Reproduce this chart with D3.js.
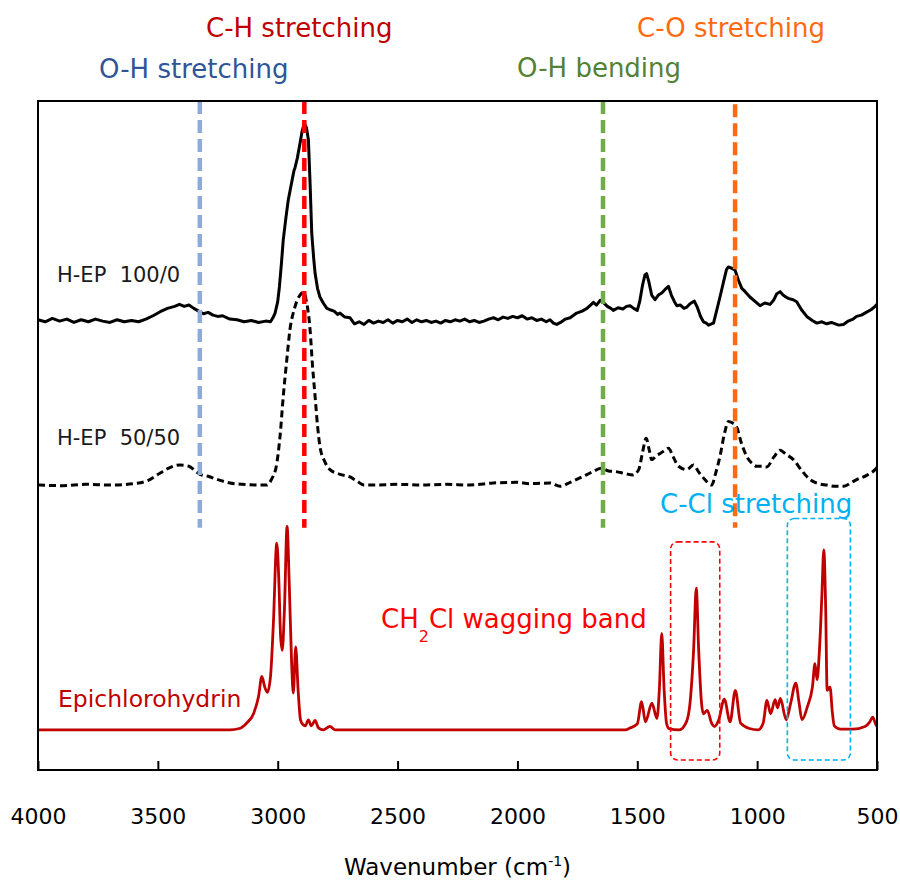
<!DOCTYPE html>
<html>
<head>
<meta charset="utf-8">
<script src="https://cdn.jsdelivr.net/npm/d3@7"></script>
<style>
  body { margin: 0; background: #fff; }
  text { font-family: "DejaVu Sans", Verdana, sans-serif; white-space: pre; }
</style>
</head>
<body>
<svg id="chart" width="900" height="884"></svg>
<script>
// FTIR spectra, wavenumber (cm-1) vs offset absorbance (arbitrary units, 0-100 over the plot)

var hep100 = [
  [4000,67.3],[3970,67.0],[3940,67.5],[3910,67.1],[3880,67.4],[3850,66.9],[3820,67.3],[3790,67.0],
  [3760,67.4],[3730,67.1],[3700,66.9],[3670,67.3],[3640,67.0],[3610,67.2],[3580,67.0],[3550,67.4],
  [3520,67.9],[3490,68.5],[3460,69.0],[3430,69.3],[3410,69.6],[3390,69.3],[3370,69.5],[3350,69.0],
  [3330,68.6],[3310,68.2],[3290,68.4],[3270,68.0],[3250,67.8],[3230,67.9],[3200,67.4],[3170,67.3],
  [3140,67.0],[3110,67.2],[3080,66.9],[3050,67.1],[3030,67.0],[3020,67.6],[3011,68.3],[3000,70.0],
  [2993,72.2],[2985,75.5],[2977,79.2],[2966,82.5],[2956,85.2],[2942,87.8],[2932,89.6],[2928,90.0],
  [2918,91.5],[2907,93.7],[2898,95.5],[2889,96.7],[2880,96.0],[2872,94.2],[2865,87.7],[2858,80.2],
  [2850,76.5],[2844,74.2],[2834,72.0],[2824,70.7],[2810,69.8],[2795,69.0],[2782,68.8],[2765,68.6],
  [2750,68.1],[2740,68.3],[2720,67.7],[2698,67.6],[2680,66.7],[2660,67.0],[2640,66.6],[2620,67.2],
  [2600,66.8],[2580,67.1],[2560,66.9],[2540,67.3],[2520,66.8],[2500,67.2],[2480,67.0],[2460,67.4],
  [2440,66.9],[2420,67.3],[2400,67.0],[2380,67.2],[2360,66.9],[2340,67.1],[2320,66.8],[2300,67.2],
  [2280,67.0],[2260,67.3],[2240,67.1],[2220,67.4],[2200,67.0],[2180,67.2],[2160,66.9],[2140,67.1],
  [2120,67.4],[2100,67.6],[2080,67.3],[2060,67.7],[2040,67.5],[2020,67.8],[2000,67.6],[1980,67.9],
  [1960,67.4],[1940,67.6],[1920,67.2],[1900,67.4],[1880,67.0],[1864,67.3],[1850,66.8],[1836,66.6],
  [1820,66.9],[1800,67.4],[1780,67.6],[1753,68.3],[1730,68.6],[1710,69.0],[1695,69.5],[1683,69.9],
  [1670,69.5],[1655,70.2],[1642,69.9],[1625,69.3],[1610,69.0],[1600,68.7],[1580,69.1],[1560,68.9],
  [1545,69.3],[1530,69.4],[1515,69.0],[1500,68.7],[1490,70.0],[1478,72.5],[1468,74.0],[1461,74.2],
  [1452,73.0],[1440,71.0],[1426,70.3],[1412,71.0],[1398,71.3],[1385,71.8],[1370,72.3],[1358,71.0],
  [1345,70.0],[1335,69.4],[1320,69.5],[1305,69.0],[1293,69.2],[1280,69.7],[1262,70.1],[1250,69.2],
  [1236,67.8],[1224,67.0],[1212,66.8],[1203,66.5],[1190,66.7],[1182,66.8],[1170,68.5],[1155,70.7],
  [1140,73.0],[1128,74.8],[1120,75.2],[1106,75.0],[1092,74.7],[1078,73.2],[1064,72.0],[1050,71.5],
  [1030,70.7],[1010,70.1],[988,69.4],[968,69.8],[946,69.6],[930,70.3],[918,71.2],[904,71.5],
  [892,71.0],[880,70.7],[870,70.5],[850,70.3],[835,70.0],[815,68.8],[793,67.8],[770,67.2],
  [751,66.8],[730,67.0],[710,66.7],[690,66.9],[682,66.8],[660,66.5],[640,66.6],[620,67.1],
  [600,67.4],[585,67.8],[565,68.0],[545,68.4],[525,68.8],[508,69.3],[500,69.6]
];

var hep5050 = [
  [4000,42.6],[3900,42.5],[3800,42.7],[3700,42.6],[3600,42.8],[3540,43.3],[3490,44.4],[3450,45.2],
  [3408,45.6],[3370,45.4],[3340,44.6],[3324,44.2],[3290,43.9],[3250,43.4],[3199,42.9],[3150,42.7],
  [3080,42.6],[3046,42.6],[3025,43.5],[3004,45.8],[2990,50.0],[2977,55.8],[2963,61.0],[2949,65.8],
  [2930,69.0],[2907,71.0],[2892,71.4],[2880,70.0],[2865,65.8],[2855,60.5],[2844,55.8],[2834,51.5],
  [2824,48.4],[2805,46.2],[2782,44.9],[2740,44.2],[2698,43.8],[2670,43.2],[2640,42.6],[2600,42.6],
  [2500,42.7],[2400,42.6],[2300,42.7],[2200,42.6],[2100,42.9],[2000,43.0],[1950,42.8],[1864,42.9],
  [1822,42.4],[1780,43.0],[1725,43.9],[1690,44.5],[1651,45.1],[1620,44.7],[1588,44.6],[1550,44.3],
  [1519,44.1],[1494,44.9],[1478,47.5],[1463,49.6],[1450,47.8],[1440,46.4],[1420,47.0],[1405,47.3],
  [1385,47.8],[1370,48.1],[1350,46.8],[1328,45.4],[1293,44.9],[1266,45.6],[1245,44.6],[1220,43.5],
  [1190,42.6],[1172,44.5],[1155,46.9],[1135,50.5],[1120,52.1],[1104,51.9],[1086,51.3],[1065,48.8],
  [1044,46.9],[1020,45.8],[1002,45.4],[980,45.4],[960,45.3],[930,46.8],[904,47.8],[880,47.2],
  [849,46.4],[815,44.8],[779,43.4],[745,42.8],[710,42.6],[675,42.4],[640,42.4],[610,42.9],
  [585,43.4],[545,44.0],[508,44.9],[500,45.2]
];

var epichlorohydrin = [
  [4000,6.0],[3500,6.0],[3200,6.0],[3160,6.2],[3130,7.0],[3100,8.5],[3080,11.0],[3066,14.0],
  [3055,12.5],[3043,11.6],[3030,14.0],[3018,22.0],[3004,33.9],[2995,28.0],[2988,20.0],[2981,17.9],
  [2972,24.0],[2961,36.4],[2952,28.0],[2942,16.0],[2935,11.5],[2925,18.4],[2915,12.0],[2905,7.5],
  [2895,6.8],[2885,6.6],[2872,7.5],[2860,6.6],[2844,7.4],[2830,6.3],[2810,6.0],[2782,6.5],
  [2760,6.0],[2700,6.0],[2000,6.0],[1550,6.0],[1529,6.3],[1500,6.9],[1482,10.2],[1466,7.2],
  [1439,10.0],[1418,7.7],[1408,12.0],[1398,20.4],[1388,12.0],[1378,7.0],[1368,6.2],[1325,6.0],
  [1295,7.2],[1280,10.0],[1265,18.0],[1254,27.2],[1244,18.0],[1232,10.0],[1225,8.4],[1208,8.9],
  [1190,7.0],[1178,6.5],[1160,7.5],[1137,10.6],[1113,7.2],[1091,11.9],[1069,7.0],[1032,6.2],
  [996,6.0],[975,7.0],[959,10.4],[944,8.4],[925,10.5],[915,9.3],[903,10.7],[879,7.5],
  [860,10.0],[839,13.0],[825,10.0],[813,7.5],[790,9.5],[769,12.5],[759,15.9],[750,13.5],
  [740,18.0],[730,26.0],[722,32.9],[714,24.0],[708,11.9],[696,12.4],[686,8.5],[678,6.6],
  [652,6.1],[600,6.1],[550,6.5],[530,7.2],[518,7.9],[506,6.9],[500,6.5]
];

// band assignments: wavenumber of the marker line
var bandNames = ["O-H stretching", "C-H stretching", "O-H bending", "C-O stretching"];
var bandWavenumbers = [3325, 2889, 1643, 1092];

// highlighted regions of the epichlorohydrin spectrum [from, to]
var boxRanges = [[1361, 1156], [874, 611]];
var boxTops = [34.1, 37.6];

var xTicks = [4000, 3500, 3000, 2500, 2000, 1500, 1000, 500];

var margin = {top: 101, right: 23, bottom: 114, left: 38};
var width = 900 - margin.left - margin.right;
var height = 884 - margin.top - margin.bottom;

var svg = d3.select("#chart");
var g = svg.append("g").attr("transform", "translate(" + margin.left + "," + margin.top + ")");

var x = d3.scaleLinear().domain([4000, 500]).range([0, width]);
var y = d3.scaleLinear().domain([0, 100]).range([height, 0]);

// axis with inward ticks
var xAxis = d3.axisBottom(x).tickValues(xTicks).tickFormat(d3.format("d"))
  .tickSizeInner(-9).tickSizeOuter(0);
var ax = g.append("g").attr("transform", "translate(0," + height + ")").call(xAxis);
ax.select(".domain").remove();
ax.selectAll(".tick line").attr("stroke", "#000").attr("stroke-width", 2);
ax.selectAll(".tick text")
  .attr("y", 54).attr("dy", 0)
  .style("font-size", "22px")
  .style("font-family", "'DejaVu Sans', sans-serif")
  .attr("fill", "#000");

var title = g.append("text")
  .attr("x", width / 2).attr("y", height + 105)
  .attr("text-anchor", "middle")
  .style("font-size", "23px")
  .attr("fill", "#000");
title.append("tspan").text("Wavenumber (cm");
title.append("tspan").attr("dy", -9).style("font-size", "14px").text("-1");
title.append("tspan").attr("dy", 9).text(")");

var line = d3.line().x(function(d){ return x(d[0]); }).y(function(d){ return y(d[1]); });
var smooth = d3.line().curve(d3.curveMonotoneX)
  .x(function(d){ return x(d[0]); }).y(function(d){ return y(d[1]); });

g.append("path").datum(hep100).attr("d", line)
  .attr("fill", "none").attr("stroke", "#000").attr("stroke-width", 3)
  .attr("stroke-linejoin", "round");

g.append("path").datum(hep5050).attr("d", smooth)
  .attr("fill", "none").attr("stroke", "#000").attr("stroke-width", 3)
  .attr("stroke-dasharray", "7,4");

g.append("path").datum(epichlorohydrin).attr("d", smooth)
  .attr("fill", "none").attr("stroke", "#c00000").attr("stroke-width", 2.8)
  .attr("stroke-linejoin", "round");

// dashed marker lines
var bandLineColors = ["#8eaadb", "#ff0000", "#70ad47", "#ff6a10"];
var bandTextColors = ["#2f5597", "#c00000", "#548235", "#ff6a10"];
g.selectAll(".band").data(bandWavenumbers).enter().append("line")
  .attr("class", "band")
  .attr("x1", function(d){ return x(d); }).attr("x2", function(d){ return x(d); })
  .attr("y1", function(d, i){ return i == 3 ? y(99.5) : y(100); })
  .attr("y2", y(36.2))
  .attr("stroke", function(d, i){ return bandLineColors[i]; })
  .attr("stroke-width", 4.5)
  .attr("stroke-dasharray", "13,6");

// rounded dashed boxes
var boxColors = ["#ff0000", "#00b0f0"];
g.selectAll(".box").data(boxRanges).enter().append("rect")
  .attr("class", "box")
  .attr("x", function(d){ return x(d[0]); })
  .attr("width", function(d){ return x(d[1]) - x(d[0]); })
  .attr("y", function(d, i){ return y(boxTops[i]); })
  .attr("height", function(d, i){ return y(1.5) - y(boxTops[i]); })
  .attr("rx", 7)
  .attr("fill", "none")
  .attr("stroke", function(d, i){ return boxColors[i]; })
  .attr("stroke-width", 1.6)
  .attr("stroke-dasharray", "5,3");

// frame
g.append("rect").attr("width", width).attr("height", height)
  .attr("fill", "none").attr("stroke", "#000").attr("stroke-width", 2);

// labels (positions in page pixels)
var bandLabelPos = [[99, 78], [206, 37], [517, 77], [637, 37]];
svg.selectAll(".bandlabel").data(bandNames).enter().append("text")
  .attr("class", "bandlabel")
  .attr("x", function(d, i){ return bandLabelPos[i][0]; })
  .attr("y", function(d, i){ return bandLabelPos[i][1]; })
  .style("font-size", "26px")
  .attr("fill", function(d, i){ return bandTextColors[i]; })
  .text(function(d){ return d; });

svg.append("text").attr("x", 660).attr("y", 513)
  .style("font-size", "26px").attr("fill", "#00b0f0").text("C-Cl stretching");

var wag = svg.append("text").attr("x", 381).attr("y", 628)
  .style("font-size", "26px").attr("fill", "#ff0000");
wag.append("tspan").text("CH");
wag.append("tspan").attr("dy", 14).style("font-size", "16px").text("2");
wag.append("tspan").attr("dy", -14).text("Cl wagging band");

svg.append("text").attr("x", 57).attr("y", 282)
  .style("font-size", "21px").attr("fill", "#1a1a1a").text("H-EP  100/0");
svg.append("text").attr("x", 57).attr("y", 445)
  .style("font-size", "21px").attr("fill", "#1a1a1a").text("H-EP  50/50");
svg.append("text").attr("x", 58).attr("y", 707)
  .style("font-size", "23.5px").attr("fill", "#c00000").text("Epichlorohydrin");
</script>
</body>
</html>
